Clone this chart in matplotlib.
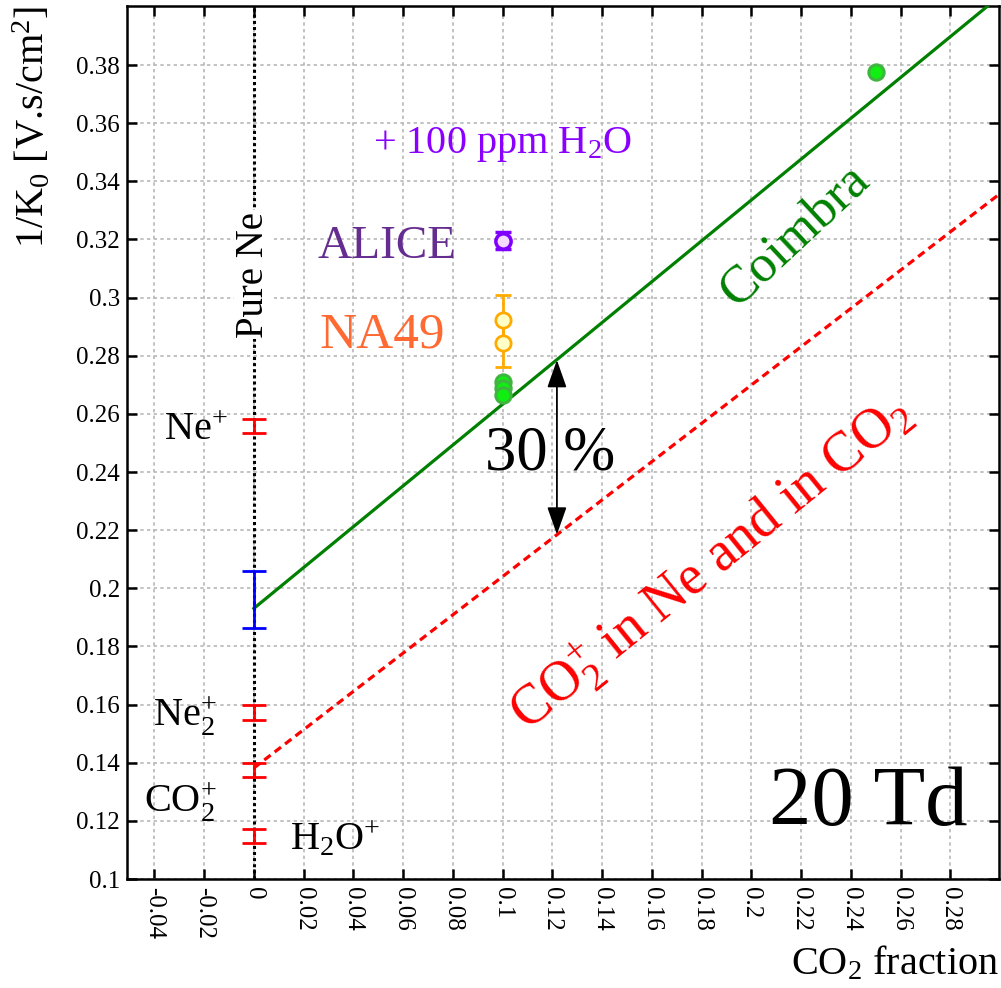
import numpy as np
import matplotlib
matplotlib.use('Agg')
import matplotlib.pyplot as plt

plt.rcParams['font.family'] = ['Liberation Serif', 'DejaVu Serif']
plt.rcParams['mathtext.fontset'] = 'custom'
plt.rcParams['mathtext.rm'] = 'Liberation Serif'
plt.rcParams['mathtext.it'] = 'Liberation Serif:italic'
plt.rcParams['mathtext.bf'] = 'Liberation Serif:bold'

# ions in pure Ne (x = 0)
ion_labels = ['Ne$^{+}$', 'Ne$_{2}^{+}$', 'CO$_{2}^{+}$', 'H$_{2}$O$^{+}$']
ion_y = [0.2558, 0.1573, 0.1375, 0.1147]
ion_err = [0.0023, 0.0026, 0.0025, 0.0024]
ion_text_x = [-0.0105, -0.0150, -0.0150, 0.0145]
ion_text_y = [0.251, 0.1523, 0.123, 0.110]

pure_ne_y = 0.196
pure_ne_err = 0.0098

# Coimbra fit and CO2+ line
coimbra_x = [0.0, 0.2995]
coimbra_y = [0.1931, 0.4035]
co2_x = [0.0, 0.2995]
co2_y = [0.1382, 0.3355]

# measured points
coimbra_pts_x = [0.1, 0.1, 0.1, 0.25]
coimbra_pts_y = [0.2711, 0.2688, 0.2665, 0.3777]

na49_x = [0.1, 0.1]
na49_y = [0.2923, 0.2845]
na49_err = [0.0086, 0.0083]

alice_x = [0.1]
alice_y = [0.3196]
alice_err = [0.003]

arrow_x = 0.1218
arrow_top = 0.2785
arrow_bot = 0.2185

xticks = np.arange(-0.04, 0.281, 0.02)
xtick_labels = ['-0.04', '-0.02', '0', '0.02', '0.04', '0.06', '0.08', '0.1', '0.12',
                '0.14', '0.16', '0.18', '0.2', '0.22', '0.24', '0.26', '0.28']
yticks = np.arange(0.1, 0.381, 0.02)
ytick_labels = ['0.1', '0.12', '0.14', '0.16', '0.18', '0.2', '0.22', '0.24', '0.26',
                '0.28', '0.3', '0.32', '0.34', '0.36', '0.38']

fig = plt.figure(figsize=(10.01, 9.88), dpi=100)
ax = fig.add_axes([0.1269, 0.1103, 0.998 - 0.1269, 0.9939 - 0.1103])
ax.set_xlim(-0.051, 0.2995)
ax.set_ylim(0.1, 0.4003)

ax.set_xticks(xticks)
ax.set_xticklabels(xtick_labels)
ax.set_yticks(yticks)
ax.set_yticklabels(ytick_labels)
ax.tick_params(axis='both', direction='in', length=7, width=1.8, labelsize=18,
               top=True, right=True)
ax.tick_params(axis='x', labelrotation=-90, pad=6)
ax.tick_params(axis='y', pad=5)
for s in ax.spines.values():
    s.set_linewidth(1.8)
ax.spines['bottom'].set_linestyle((0, (1, 1)))

ax.grid(True, color='#b8b8b8', linestyle=(0, (2, 2)), linewidth=1.2)
ax.set_axisbelow(True)

# pure Ne reference line
ax.axvline(0, color='black', linestyle=(0, (1, 1)), linewidth=2.2, zorder=2)

# lines
ax.plot(coimbra_x, coimbra_y, color='#008000', linewidth=2.3, zorder=3)
ax.plot(co2_x, co2_y, color='#ff0000', linewidth=2.3, dashes=(2.5, 1.6), zorder=3)

# ion error bars
for y, e in zip(ion_y, ion_err):
    ax.errorbar([0], [y], yerr=[e], fmt='none', ecolor='#ff0000', elinewidth=2,
                capsize=8.3, capthick=2, zorder=4)
ax.errorbar([0], [pure_ne_y], yerr=[pure_ne_err], fmt='none', ecolor='#0000ff',
            elinewidth=2, capsize=8.3, capthick=2, zorder=4)

# measured points
ax.plot(coimbra_pts_x, coimbra_pts_y, 'o', markersize=11, markerfacecolor='#11ee11',
        markeredgecolor='#40b440', markeredgewidth=2.2, linestyle='none', zorder=5)
for x, y, e in zip(na49_x, na49_y, na49_err):
    ax.errorbar([x], [y], yerr=[e], fmt='o', color='#ffaa00', markersize=11,
                markerfacecolor='#ffffc8', markeredgewidth=2, elinewidth=2,
                capsize=5.8, capthick=2, zorder=5)
ax.errorbar(alice_x, alice_y, yerr=alice_err, fmt='o', color='#8000ff', markersize=11,
            markerfacecolor='#f5dcff', markeredgewidth=2.5, elinewidth=2,
            capsize=6, capthick=2.5, zorder=5)

# 30 % arrow
ax.annotate('', xy=(arrow_x, arrow_top), xytext=(arrow_x, arrow_bot),
            arrowprops=dict(arrowstyle='<|-|>,head_length=1.7,head_width=0.6',
                            color='black', lw=1.3, shrinkA=0, shrinkB=0), zorder=6)
ax.text(0.0929, 0.241, '30 %', fontsize=45, ha='left', va='baseline')

# labels
for lab, tx, ty in zip(ion_labels, ion_text_x, ion_text_y):
    ha = 'left' if tx > 0 else 'right'
    ax.text(tx, ty, lab, fontsize=29, ha=ha, va='baseline')

ax.text(0.0, 0.3078, 'Pure Ne', fontsize=28, rotation=90, ha='center', va='center',
        bbox=dict(facecolor='white', edgecolor='none', pad=1), zorder=6)
ax.text(0.0257, 0.3136, 'ALICE', fontsize=34, color='#662d91', ha='left', va='baseline')
ax.text(0.0265, 0.283, 'NA49', fontsize=37, color='#ff6a33', ha='left', va='baseline')
ax.text(0.0478, 0.3497, '+ 100 ppm H$_{2}$O', fontsize=29, color='#8a00ff',
        ha='left', va='baseline')
ax.text(0.2175, 0.3215, 'Coimbra', fontsize=38, color='#008000', rotation=43,
        rotation_mode='anchor', ha='center', va='center')
ax.text(0.1838, 0.2085, 'CO$_{2}^{+}$ in Ne and in CO$_{2}$', fontsize=40, color='#ff0000',
        rotation=39, rotation_mode='anchor', ha='center', va='center')
ax.text(0.287, 0.1186, '20 Td', fontsize=61, ha='right', va='baseline')

ax.set_xlabel('CO$_{2}$ fraction', fontsize=29, loc='right')
ax.xaxis.set_label_coords(1.0, -0.075)
ax.set_ylabel('1/K$_{0}$ [V.s/cm$^{2}$]', fontsize=29, loc='top')
ax.yaxis.set_label_coords(-0.085, 1.0)

fig.savefig('out.png', dpi=100)
